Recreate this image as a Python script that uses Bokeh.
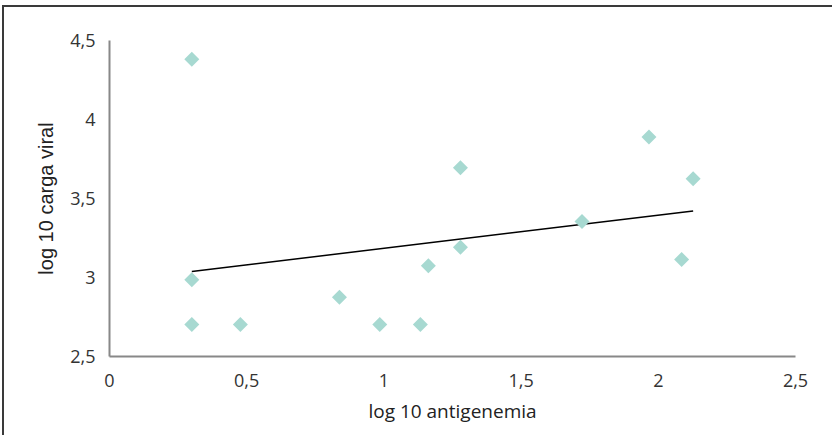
import numpy as np
from bokeh.plotting import figure
from bokeh.models import Range1d, FixedTicker, CustomJSTickFormatter
from bokeh.embed import file_html
from bokeh.resources import INLINE

# data
antigenemia = [0.30, 0.30, 0.30, 0.477, 0.838, 0.985, 1.133, 1.162, 1.279, 1.279, 1.722, 1.966, 2.085, 2.127]
carga_viral = [4.382, 2.985, 2.703, 2.703, 2.875, 2.703, 2.703, 3.074, 3.192, 3.694, 3.354, 3.889, 3.114, 3.625]

x_tick_values = [0, 0.5, 1, 1.5, 2, 2.5]
x_tick_labels = ["0", "0,5", "1", "1,5", "2", "2,5"]
y_tick_values = [2.5, 3, 3.5, 4, 4.5]
y_tick_labels = ["2,5", "3", "3,5", "4", "4,5"]

# linear trend line (least squares) over the data extent
xs = np.array(antigenemia)
ys = np.array(carga_viral)
slope, intercept = np.polyfit(xs, ys, 1)
trend_x = [xs.min(), xs.max()]
trend_y = [slope * v + intercept for v in trend_x]

p = figure(width=830, height=430, output_backend="svg", toolbar_location=None,
           x_range=Range1d(0, 2.5), y_range=Range1d(2.5, 4.5),
           min_border_left=105, min_border_right=39, min_border_top=33, min_border_bottom=81,
           styles={"border-top": "2px solid #3a3a3a", "border-left": "2px solid #3a3a3a",
                   "margin-left": "2px", "margin-top": "5px"})
p.outline_line_color = None
p.grid.visible = False

p.line(trend_x, trend_y, line_color="black", line_width=1.5)
p.scatter(antigenemia, carga_viral, marker="square", angle=np.pi / 4, size=10.6,
          fill_color="#a7d9d1", line_color=None)

fmt_js = """
const i = vals.findIndex(v => Math.abs(v - tick) < 1e-9);
return i >= 0 ? labs[i] : '';
"""
p.xaxis.ticker = FixedTicker(ticks=x_tick_values)
p.xaxis.formatter = CustomJSTickFormatter(args=dict(vals=x_tick_values, labs=x_tick_labels), code=fmt_js)
p.yaxis.ticker = FixedTicker(ticks=y_tick_values)
p.yaxis.formatter = CustomJSTickFormatter(args=dict(vals=y_tick_values, labs=y_tick_labels), code=fmt_js)

for ax in (p.xaxis, p.yaxis):
    ax.axis_line_color = "#888888"
    ax.axis_line_width = 2
    ax.major_tick_line_color = None
    ax.minor_tick_line_color = None
    ax.major_tick_out = 0
    ax.major_tick_in = 0
    ax.major_label_text_font = "Open Sans"
    ax.major_label_text_font_size = "18px"
    ax.major_label_text_color = "#333333"
    ax.axis_label_text_font_style = "normal"
    ax.axis_label_text_color = "#222222"

p.yaxis.major_label_standoff = 14
p.xaxis.major_label_standoff = 17

p.xaxis.axis_label = "log 10 antigenemia"
p.xaxis.axis_label_text_font = "Open Sans"
p.xaxis.axis_label_text_font_size = "19px"
p.xaxis.axis_label_standoff = 8

p.yaxis.axis_label = "log 10 carga viral"
p.yaxis.axis_label_text_font = "Liberation Sans"
p.yaxis.axis_label_text_font_size = "20px"
p.yaxis.axis_label_standoff = 10

open("out.html", "w").write(file_html(p, INLINE))
